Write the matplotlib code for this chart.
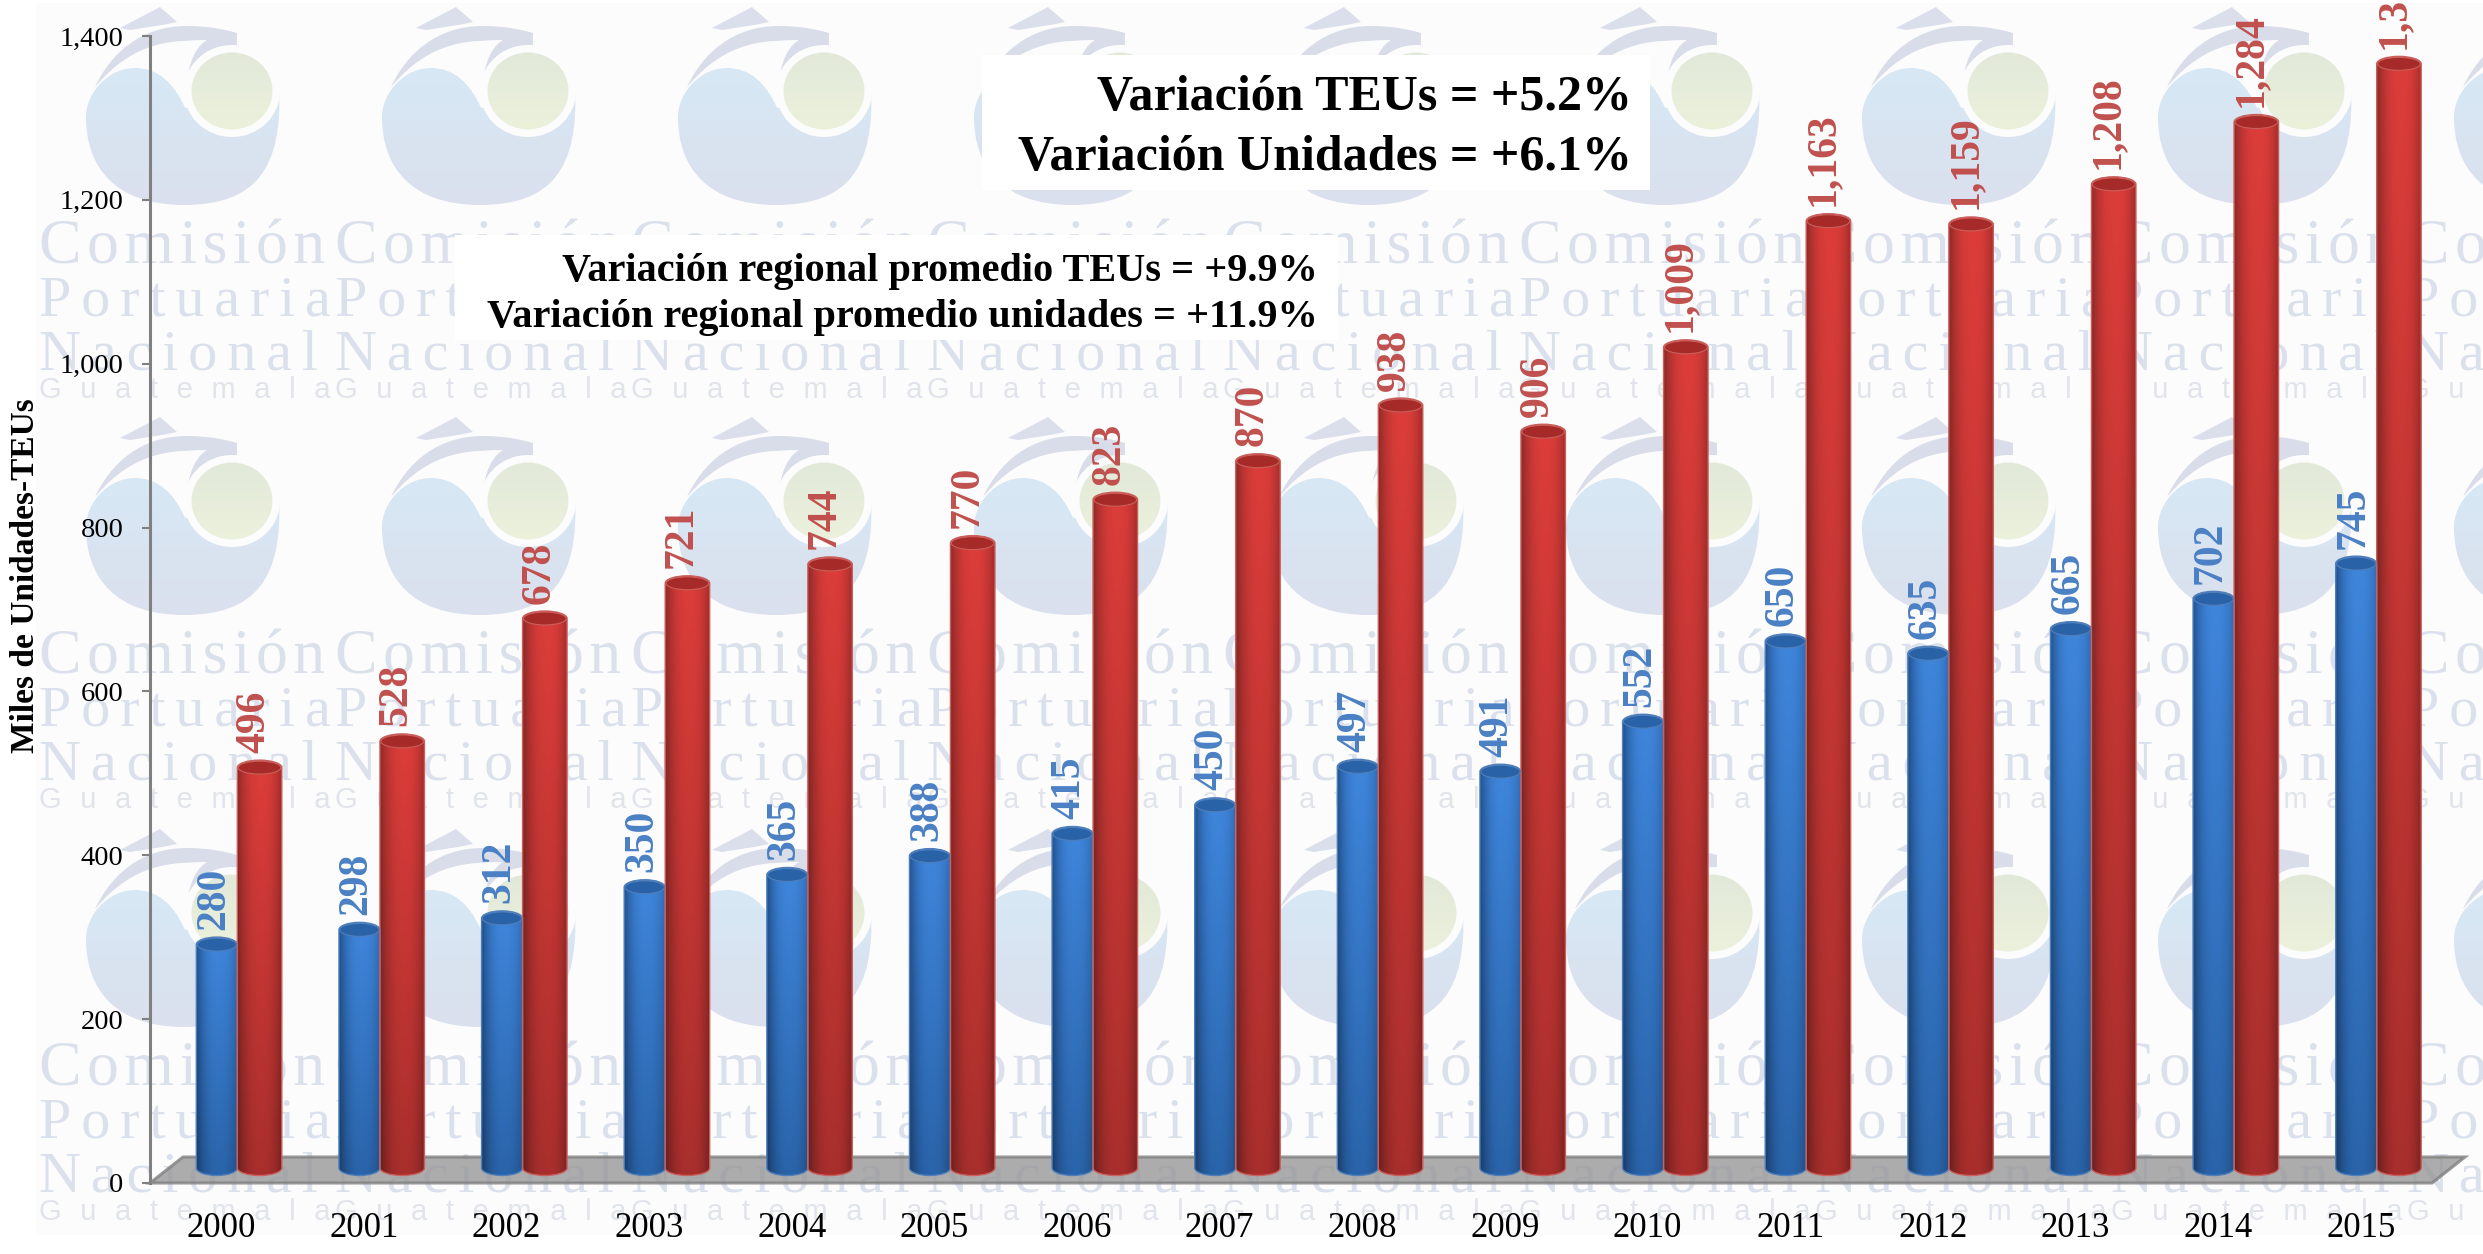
import numpy as np
import matplotlib
matplotlib.use("Agg")
import matplotlib.pyplot as plt
from matplotlib.path import Path
from matplotlib.patches import PathPatch, Polygon, Rectangle, Ellipse
from matplotlib.transforms import Affine2D

W, H, DPI = 2483, 1254, 100
SERIF = "Liberation Serif"
SANS = "Liberation Sans"

years = [str(y) for y in range(2000, 2016)]
teus = [280, 298, 312, 350, 365, 388, 415, 450, 497, 491, 552, 650, 635, 665, 702, 745]
unidades = [496, 528, 678, 721, 744, 770, 823, 870, 938, 906, 1009, 1163, 1159, 1208, 1284, 1355]
teus_labels = [f"{v:,}" for v in teus]
unidades_labels = [f"{v:,}" for v in unidades[:-1]] + ["1,3"]   # last label is cut off in the source
yticks = [0, 200, 400, 600, 800, 1000, 1200, 1400]
ylabel = "Miles de Unidades-TEUs"
note_big = ["Variación TEUs = +5.2%", "Variación Unidades = +6.1%"]
note_small = ["Variación regional promedio TEUs = +9.9%", "Variación regional promedio unidades = +11.9%"]
wm_words = ["Comisión", "Portuaria", "Nacional"]
wm_sub = "Guatemala"

fig = plt.figure(figsize=(W / DPI, H / DPI), dpi=DPI, facecolor="white")

# ---------- watermark layer, in pixel coordinates ----------
bg = fig.add_axes([0, 0, 1, 1], zorder=0)
bg.set_xlim(0, W)
bg.set_ylim(H, 0)
bg.axis("off")
TILE = "#fcfcfd"
bg.add_patch(Rectangle((36, 3), W - 36, 1232, fc=TILE, ec="none", zorder=0))


def vgrad(c0, c1):
    a, b = np.array(matplotlib.colors.to_rgb(c0)), np.array(matplotlib.colors.to_rgb(c1))
    t = np.linspace(0, 1, 64)[:, None, None]
    return a[None, None, :] * (1 - t) + b[None, None, :] * t


def logo(ox, oy):
    # swoosh with ship
    v = [(9, 19), (25, -15), (55, -42), (101, -42), (125, -42), (140, -38), (151, -35), (151, -23),
         (125, -22), (112, -5), (107, 5), (103, 15), (101, 25), (100, 35),
         (100, 5), (105, -18), (121, -28), (90, -27), (50, -30), (9, 19), (9, 19)]
    c = [Path.MOVETO] + [Path.CURVE4] * 6 + [Path.LINETO] + [Path.CURVE4] * 12 + [Path.CLOSEPOLY]
    bg.add_patch(PathPatch(Path([(ox + x, oy + y) for x, y in v], c), fc="#d8dde9", ec="none", zorder=1))
    bg.add_patch(Polygon([(ox + 34, oy - 40), (ox + 74, oy - 61), (ox + 91, oy - 46), (ox + 76, oy - 43), (ox + 44, oy - 38)],
                         fc="#dadfeb", ec="none", zorder=1))
    # blue body
    v = [(0, 49), (0, 25), (22, 0), (49, 0), (72, 0), (88, 15), (99, 40), (193, 19),
         (197, 100), (170, 137), (98, 137), (30, 137), (0, 100), (0, 49), (0, 49)]
    c = [Path.MOVETO, Path.CURVE4, Path.CURVE4, Path.CURVE4, Path.CURVE4, Path.CURVE4, Path.CURVE4,
         Path.LINETO, Path.CURVE4, Path.CURVE4, Path.CURVE4, Path.CURVE4, Path.CURVE4, Path.CURVE4, Path.CLOSEPOLY]
    p = Path([(ox + x, oy + y) for x, y in v], c)
    im = bg.imshow(vgrad("#d7e8f5", "#dbe0ed"), extent=(ox, ox + 197, oy + 137, oy), aspect="auto", zorder=1.5, interpolation="bilinear")
    im.set_clip_path(PathPatch(p, transform=bg.transData))
    # white ring and green disc
    bg.add_patch(Ellipse((ox + 146, oy + 23), 96, 92, fc=TILE, ec="none", zorder=2))
    gp = Ellipse((ox + 146, oy + 23), 81, 77, fc="none", ec="none", transform=bg.transData)
    bg.add_patch(gp)
    im2 = bg.imshow(vgrad("#e2e9d9", "#ecf1dc"), extent=(ox + 105, ox + 187, oy + 62, oy - 16), aspect="auto", zorder=3, interpolation="bilinear")
    im2.set_clip_path(gp)


HS = "\u200a"
for row, dy in enumerate([0, 410, 822]):
    for i in range(9):
        dx = 296 * i
        logo(86 + dx, 68 + dy)
        x0 = 39 + dx
        bg.text(x0, 263 + dy, HS.join(wm_words[0]), family=SERIF, fontsize=46, color="#dbe1ec", ha="left", va="baseline", zorder=4)
        bg.text(x0, 315 + dy, (HS * 2).join(wm_words[1]), family=SERIF, fontsize=42, color="#dbe1ec", ha="left", va="baseline", zorder=4)
        bg.text(x0, 370 + dy, (HS * 2).join(wm_words[2]), family=SERIF, fontsize=42, color="#dbe1ec", ha="left", va="baseline", zorder=4)
        bg.text(x0, 398 + dy, ("  " + HS).join(wm_sub), family=SANS, fontsize=21, color="#e1e4ea", ha="left", va="baseline", zorder=4)

# ---------- notes ----------
bg.add_patch(Rectangle((982, 55), 668, 135, fc="white", ec="none", zorder=5))
bg.add_patch(Rectangle((455, 235), 883, 105, fc="white", ec="none", zorder=5))
for y, s in zip([98, 158], note_big):
    bg.text(1632, y, s, family=SERIF, weight="bold", fontsize=36, color="black", ha="right", va="center", zorder=6)
for y, s in zip([271, 317], note_small):
    bg.text(1318, y, s, family=SERIF, weight="bold", fontsize=29, color="black", ha="right", va="center", zorder=6)
bg.set_xlim(0, W)
bg.set_ylim(H, 0)

# ---------- main chart ----------
ax = fig.add_axes([150 / W, (H - 1183) / H, (2432 - 150) / W, (1183 - 36) / H], zorder=1)
ax.patch.set_alpha(0)
for s in ("top", "right", "bottom"):
    ax.spines[s].set_visible(False)
ax.spines["left"].set_color("#808080")
ax.spines["left"].set_linewidth(2.2)
XLIM, YLIM = (-0.5, 15.5), (0, 1400)
ax.set_xlim(*XLIM)
ax.set_ylim(*YLIM)
ax.set_yticks(yticks)
ax.set_yticklabels([f"{v:,}" for v in yticks], family=SERIF, fontsize=20.5)
ax.tick_params(axis="y", length=6, width=1.5, color="#808080", pad=13)
ax.set_xticks(range(len(years)))
ax.set_xticklabels(years, family=SERIF, fontsize=25)
ax.tick_params(axis="x", length=0, pad=21)
fig.text(26 / W, 1 - 576 / H, ylabel, family=SERIF, weight="bold", fontsize=24, rotation=90, ha="center", va="center")

PX_X = (2432 - 150) / 16
PX_Y = (1183 - 36) / 1400
# floor
dxf, dyf = 33 / PX_X, 26 / PX_Y
ax.add_patch(Polygon([(-0.5, 0), (15.5, 0), (15.5 + dxf, dyf), (-0.5 + dxf, dyf)], closed=True,
                     fc="#989898", ec="#808080", lw=2.2, alpha=0.8, zorder=2, clip_on=False))

shift = ax.transData + Affine2D().translate(16, 9)
ELL = 7.5 / PX_Y
BASE = 6 / PX_Y      # foot of the cylinders, set back on the floor
BW_BLUE, BW_RED = 41 / PX_X, 44.5 / PX_X


def shade(top_c, bot_c, edge_l, edge_r):
    """Cylinder shading: vertical darkening times a horizontal bell."""
    n = 60
    t = np.linspace(0, 1, n)
    prof = np.clip(1 - np.abs((t - 0.55) / 0.55) ** 2.4, 0, 1)
    top, bot = np.array(matplotlib.colors.to_rgb(top_c)), np.array(matplotlib.colors.to_rgb(bot_c))
    el, er = np.array(matplotlib.colors.to_rgb(edge_l)), np.array(matplotlib.colors.to_rgb(edge_r))
    m = 40
    v = np.linspace(0, 1, m)[:, None, None]
    h = prof[None, :, None]
    edge = np.where(t[None, :, None] < 0.55, 1.0, 0.0) * el + np.where(t[None, :, None] < 0.55, 0.0, 1.0) * er
    col = top[None, None, :] * (1 - v) + bot[None, None, :] * v
    dark = 1 - 0.28 * v
    return np.clip(col * h + edge * dark * (1 - h), 0, 1)


def cylinder(x0, w, val, tex, cap, rim):
    bar_top = val
    k = 0.5523
    cx, rx = x0 + w / 2, w / 2
    b = BASE
    verts = [(x0, bar_top), (x0, b),
             (x0, b - k * ELL), (cx - k * rx, b - ELL), (cx, b - ELL),
             (cx + k * rx, b - ELL), (x0 + w, b - k * ELL), (x0 + w, b),
             (x0 + w, bar_top),
             (x0 + w, bar_top + k * ELL), (cx + k * rx, bar_top + ELL), (cx, bar_top + ELL),
             (cx - k * rx, bar_top + ELL), (x0, bar_top + k * ELL), (x0, bar_top), (x0, bar_top)]
    codes = [Path.MOVETO, Path.LINETO, Path.CURVE4, Path.CURVE4, Path.CURVE4, Path.CURVE4, Path.CURVE4, Path.CURVE4,
             Path.LINETO, Path.CURVE4, Path.CURVE4, Path.CURVE4, Path.CURVE4, Path.CURVE4, Path.CURVE4, Path.CLOSEPOLY]
    sil = PathPatch(Path(verts, codes), transform=shift, fc="none", ec=rim, lw=1.0, zorder=6, clip_on=False)
    ax.add_patch(sil)
    im = ax.imshow(tex, extent=(x0, x0 + w, b - ELL, bar_top + ELL), aspect="auto", origin="upper", zorder=5, interpolation="bilinear")
    im.set_transform(shift)
    im.set_clip_path(PathPatch(Path(verts, codes), transform=shift))
    ax.add_patch(Ellipse((cx, bar_top), 2 * rx * 0.96, 2 * ELL * 0.86, transform=shift, fc=cap, ec=rim, lw=0.8, zorder=7, clip_on=False))


blue_tex = shade("#3f86dc", "#2a64aa", "#22528f", "#2a5d9e")
red_tex = shade("#dc3d3a", "#a92f2d", "#8f2a28", "#7c2220")
xs = np.arange(len(years))
# plain bars carry the data; the shaded cylinders sit on top of them
ax.bar(xs - BW_BLUE / 2, np.array(teus) - BASE, BW_BLUE, bottom=BASE, color="#2f6fbe", transform=shift, zorder=4)
ax.bar(xs + BW_RED / 2, np.array(unidades) - BASE, BW_RED, bottom=BASE, color="#c03432", transform=shift, zorder=4)
for x, b, r in zip(xs, teus, unidades):
    cylinder(x - BW_BLUE, BW_BLUE, b, blue_tex, "#2a62a8", "#4f7fba")
    cylinder(x, BW_RED, r, red_tex, "#a62a28", "#c9605c")

label_off = 15 / DPI * 72
for x, b, t in zip(xs, teus, teus_labels):
    ax.annotate(t, (x - BW_BLUE / 2, b), xycoords=shift, xytext=(-2, label_off), textcoords="offset points",
                rotation=90, ha="center", va="bottom", family=SERIF, weight="bold", fontsize=30, color="#4a80c4",
                annotation_clip=False, zorder=8)
for x, r, t in zip(xs, unidades, unidades_labels):
    ax.annotate(t, (x + BW_RED / 2, r), xycoords=shift, xytext=(-4, label_off), textcoords="offset points",
                rotation=90, ha="center", va="bottom", family=SERIF, weight="bold", fontsize=30, color="#c0504d",
                annotation_clip=False, zorder=8)
ax.set_xlim(*XLIM)
ax.set_ylim(*YLIM)

fig.savefig("out.png", dpi=DPI, facecolor="white")
